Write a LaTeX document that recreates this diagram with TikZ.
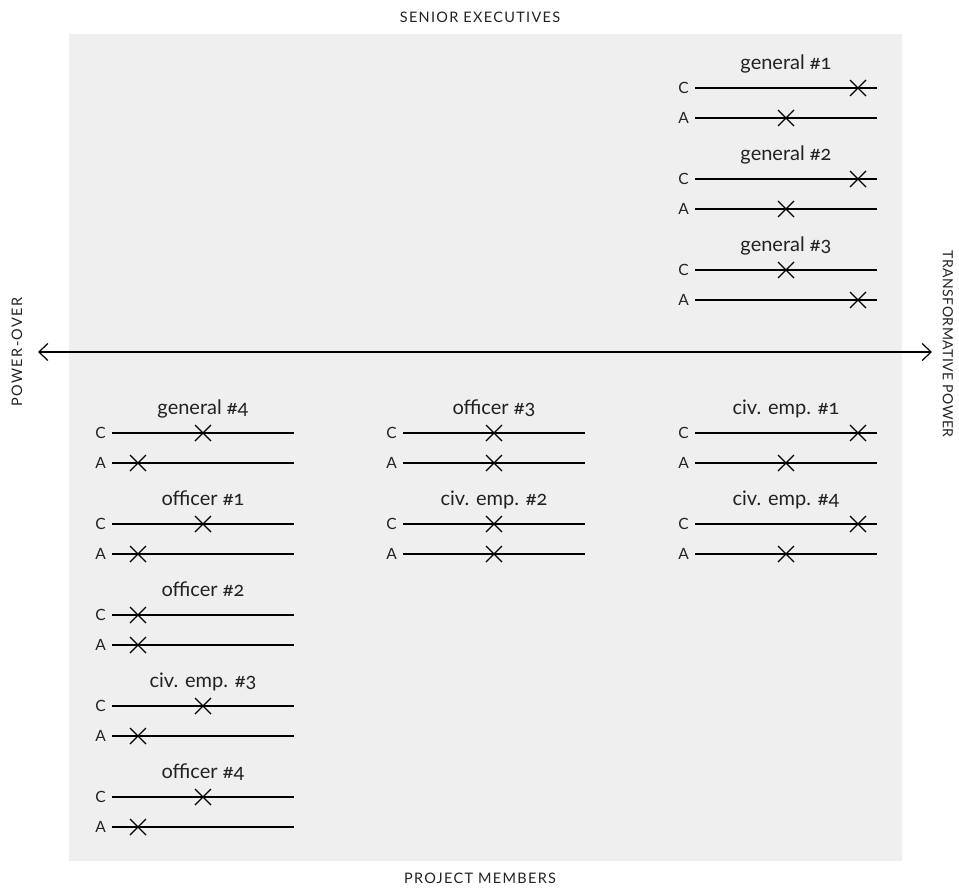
\documentclass[tikz,border=0pt]{standalone}
\usepackage{fontspec}
\setmainfont{Lato}[Numbers=OldStyle]
\newfontfamily\axisfont{Lato}[LetterSpace=9]
\newfontfamily\axisfontnarrow{Lato}[LetterSpace=3.5]
\usetikzlibrary{arrows.meta}

\definecolor{panel}{HTML}{EFEFEF}
\definecolor{ink}{HTML}{222222}

\tikzset{
  scaleline/.style={line width=1.2pt, draw=black},
  crossmark/.style={line width=1.1pt, draw=black},
  blocktitle/.style={font=\fontsize{20}{24}\selectfont, text=ink, anchor=base, inner sep=0pt},
  rowlabel/.style={font=\fontsize{15.5}{18}\selectfont, text=ink, anchor=east, inner sep=0pt},
  axislabel/.style={font=\axisfont\fontsize{14.5}{17}\selectfont, text=ink, inner sep=0pt},
  axislabelnarrow/.style={font=\axisfontnarrow\fontsize{14}{17}\selectfont, text=ink, inner sep=0pt},
}

% One rated person: #1 name, #2 x of scale start, #3 y of the C scale,
% #4 title, #5 offset of the C mark, #6 offset of the A mark
\newcommand\ratingblock[6]{%
  \node[blocktitle] (#1-t) at (#2+91, #3-19) {#4};
  \node[rowlabel] (#1-cl) at (#2-6, #3) {C};
  \node[rowlabel] (#1-al) at (#2-6, #3+30) {A};
  \coordinate (#1-c0) at (#2, #3);
  \coordinate (#1-c1) at (#2+182, #3);
  \coordinate (#1-a0) at (#2, #3+30);
  \coordinate (#1-a1) at (#2+182, #3+30);
  \coordinate (#1-cx) at (#2+#5, #3);
  \coordinate (#1-ax) at (#2+#6, #3+30);
  \draw[scaleline] (#1-c0) -- (#1-c1);
  \draw[scaleline] (#1-a0) -- (#1-a1);
  \draw[crossmark] (#1-cx) +(-8,-8) -- +(8,8) (#1-cx) +(-8,8) -- +(8,-8);
  \draw[crossmark] (#1-ax) +(-8,-8) -- +(8,8) (#1-ax) +(-8,8) -- +(8,-8);
}

\begin{document}
\begin{tikzpicture}[x=1pt, y=-1pt]
  \useasboundingbox (0,0) rectangle (959,887);
  \fill[panel] (69,34) rectangle (902,861);

  % axes
  \node[axislabel] (top) at (480,17) {SENIOR EXECUTIVES};
  \node[axislabel] (bottom) at (480,878) {PROJECT MEMBERS};
  \node[axislabel, rotate=90] (left) at (17,352) {POWER-OVER};
  \node[axislabelnarrow, rotate=-90] (right) at (948,344) {TRANSFORMATIVE POWER};
  \coordinate (west) at (38,352);
  \coordinate (east) at (932,352);
  \draw[line width=1.2pt, {Straight Barb[length=9pt,width=17pt]}-{Straight Barb[length=9pt,width=17pt]}] (west) -- (east);

  % upper right quadrant
  \ratingblock{g1}{695}{88}{general \#1}{163}{91}
  \ratingblock{g2}{695}{179}{general \#2}{163}{91}
  \ratingblock{g3}{695}{270}{general \#3}{91}{163}

  % lower left column
  \ratingblock{g4}{112}{433}{general \#4}{91}{26}
  \ratingblock{o1}{112}{524}{officer \#1}{91}{26}
  \ratingblock{o2}{112}{615}{officer \#2}{26}{26}
  \ratingblock{e3}{112}{706}{civ. emp. \#3}{91}{26}
  \ratingblock{o4}{112}{797}{officer \#4}{91}{26}

  % lower middle column
  \ratingblock{o3}{403}{433}{officer \#3}{91}{91}
  \ratingblock{e2}{403}{524}{civ. emp. \#2}{91}{91}

  % lower right column
  \ratingblock{e1}{695}{433}{civ. emp. \#1}{163}{91}
  \ratingblock{e4}{695}{524}{civ. emp. \#4}{163}{91}
\end{tikzpicture}
\end{document}
